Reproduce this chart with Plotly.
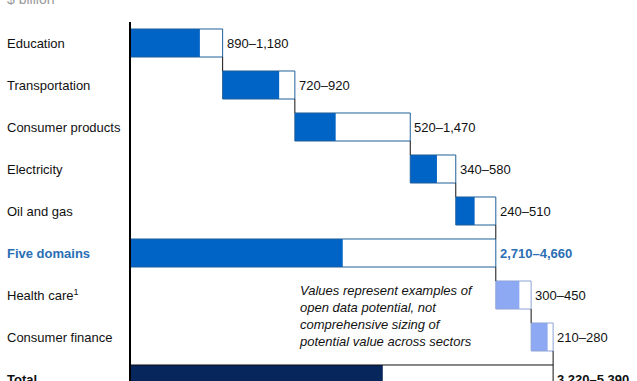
import plotly.graph_objects as go

categories = ["Education", "Transportation", "Consumer products", "Electricity",
              "Oil and gas", "Five domains", "Health care<sup>1</sup>",
              "Consumer finance", "Total"]
low = [890, 720, 520, 340, 240, 2710, 300, 210, 3220]
high = [1180, 920, 1470, 580, 510, 4660, 450, 280, 5390]
kind = ["step", "step", "step", "step", "step", "subtotal", "step", "step", "total"]

BLUE = "#0063C6"
LIGHT = "#8DA9F4"
NAVY = "#06265C"
fill_colors = [BLUE] * 6 + [LIGHT, LIGHT] + [NAVY]
edge_colors = ["#1F5F99"] * 6 + ["#8FA3D6", "#8FA3D6"] + ["#111111"]

# compute bases
bases = []
running = 0
for k, h in zip(kind, high):
    if k == "step":
        bases.append(running)
        running += h
    else:
        bases.append(0)
ends = [b + h for b, h in zip(bases, high)]
rows = list(range(len(categories)))
BW = 0.667

fig = go.Figure()
fig.add_trace(go.Bar(y=rows, x=low, base=bases, orientation="h", width=BW,
                     marker=dict(color=fill_colors, line=dict(width=0)),
                     hoverinfo="skip", showlegend=False))
fig.add_trace(go.Bar(y=rows, x=high, base=bases, orientation="h", width=BW,
                     marker=dict(color="rgba(0,0,0,0)",
                                 line=dict(color=edge_colors, width=1)),
                     hoverinfo="skip", showlegend=False))

shapes = []
# connectors
for i in range(len(rows) - 1):
    shapes.append(dict(type="line", xref="x", yref="y",
                       x0=ends[i], x1=ends[i], y0=i + BW / 2, y1=i + 1 - BW / 2,
                       line=dict(color="#111111", width=1)))
# axis line
shapes.append(dict(type="line", xref="x", yref="y", x0=0, x1=0, y0=-0.5, y1=8.7,
                   line=dict(color="#000000", width=2)))

annotations = []
FONT = "Arial, Liberation Sans, sans-serif"
for i, c in enumerate(categories):
    special = kind[i] == "subtotal"
    bold = kind[i] != "step"
    txt = f"<b>{c}</b>" if bold else c
    annotations.append(dict(xref="paper", yref="y", x=5 / 637, y=i, text=txt,
                            xanchor="left", yanchor="middle", showarrow=False,
                            font=dict(family=FONT, size=13,
                                      color="#2A6EB4" if special else "#111111")))
    lab = f"{low[i]:,}–{high[i]:,}"
    if bold:
        lab = f"<b>{lab}</b>"
    annotations.append(dict(xref="x", yref="y", x=ends[i], y=i, text=lab,
                            xanchor="left", yanchor="middle", showarrow=False,
                            xshift=2,
                            font=dict(family=FONT, size=13,
                                      color="#2A6EB4" if special else "#111111")))

annotations.append(dict(xref="paper", yref="y", x=297 / 637, y=6.5,
                        text="<i>Values represent examples of<br>open data potential, not<br>"
                             "comprehensive sizing of<br>potential value across sectors</i>",
                        align="left", xanchor="left", yanchor="middle", showarrow=False,
                        font=dict(family=FONT, size=13, color="#111111")))
annotations.append(dict(xref="paper", yref="paper", x=5 / 637, y=1, text="$ billion",
                        xanchor="left", yanchor="middle", yshift=1, showarrow=False,
                        font=dict(family=FONT, size=14, color="#9A9A9A")))

scale = 0.0785
x0px = 130
fig.update_layout(
    width=637, height=381,
    margin=dict(l=0, r=0, t=0, b=0),
    paper_bgcolor="white", plot_bgcolor="white",
    barmode="overlay",
    xaxis=dict(range=[-x0px / scale, (637 - x0px) / scale], visible=False),
    yaxis=dict(range=[(381 - 43) / 42, -43 / 42], visible=False),
    shapes=shapes, annotations=annotations,
)
fig.write_html("out.html", config={"displayModeBar": False},
               post_script="document.body.style.margin='0';document.body.style.overflow='hidden';")
